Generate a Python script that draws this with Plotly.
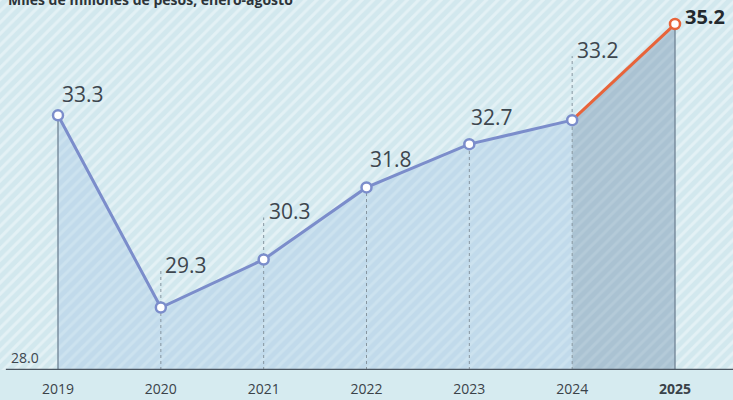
import plotly.graph_objects as go

years = [2019, 2020, 2021, 2022, 2023, 2024, 2025]
values = [33.3, 29.3, 30.3, 31.8, 32.7, 33.2, 35.2]
labels = ["33.3", "29.3", "30.3", "31.8", "32.7", "33.2", "35.2"]
base_value = 28.0
title_text = "Miles de millones de pesos, enero-agosto"

W, H = 733, 400
x_range = [2018.436, 2025.564]
y_range = [28.0, 35.7]
px_per_unit = (H - 30) / (y_range[1] - y_range[0])

# label offsets (pixels above point) and whether dotted guide reaches label
label_dy = [21, 43, 48, 28, 27, 70, 8]
label_dx = [2, 2, 3, 1, 0, 3, 8]
guide_to_label = [False, True, True, False, False, True, False]

blue = "#7b8dcb"
orange = "#e8643a"
text_col = "#3d464e"

fig = go.Figure()

# striped background
fig.add_trace(go.Scatter(
    x=[x_range[0], x_range[1], x_range[1], x_range[0], x_range[0]],
    y=[y_range[0] - 1, y_range[0] - 1, y_range[1], y_range[1], y_range[0] - 1],
    fill="toself", mode="none", hoverinfo="skip", showlegend=False,
    fillcolor="#d6ebf0",
    fillpattern=dict(shape="/", bgcolor="#d2e8ee", fgcolor="#f4fafc", size=8, solidity=0.38),
))

# area under blue line
fig.add_trace(go.Scatter(
    x=years[:6], y=values[:6], fill="tozeroy", mode="none", hoverinfo="skip",
    showlegend=False,
    fillpattern=dict(shape="/", bgcolor="#c1daeb", fgcolor="#d8e9f3", size=8, solidity=0.38),
))
# area under orange segment
fig.add_trace(go.Scatter(
    x=years[5:], y=values[5:], fill="tozeroy", mode="none", hoverinfo="skip",
    showlegend=False,
    fillpattern=dict(shape="/", bgcolor="#aac2d2", fgcolor="#bdd1de", size=8, solidity=0.38),
))

# vertical guide lines
for i, (yr, v) in enumerate(zip(years, values)):
    if i == 0 or i == len(years) - 1:
        fig.add_trace(go.Scatter(x=[yr, yr], y=[base_value, v], mode="lines",
                                 line=dict(color="#76899a", width=1.4),
                                 hoverinfo="skip", showlegend=False))
    else:
        top = v + (label_dy[i] - 6) / px_per_unit if guide_to_label[i] else v
        fig.add_trace(go.Scatter(x=[yr, yr], y=[base_value, top], mode="lines",
                                 line=dict(color="#8796a0", width=1, dash="dot"),
                                 hoverinfo="skip", showlegend=False))

# lines
fig.add_trace(go.Scatter(
    x=years[5:], y=values[5:], mode="lines", line=dict(color=orange, width=3),
    showlegend=False, hoverinfo="skip",
))
fig.add_trace(go.Scatter(
    x=years[:6], y=values[:6], mode="lines+markers", line=dict(color=blue, width=3),
    marker=dict(size=10, color="white", line=dict(color=blue, width=2.5)),
    showlegend=False,
))
fig.add_trace(go.Scatter(
    x=[years[6]], y=[values[6]], mode="markers",
    marker=dict(size=10, color="white", line=dict(color=orange, width=2.5)),
    showlegend=False,
))

shapes = [dict(type="line", xref="paper", x0=0.008, x1=1, y0=base_value, y1=base_value,
               line=dict(color="#4b5661", width=2.5))]

annotations = []
for i, (yr, v, lab) in enumerate(zip(years, values, labels)):
    last = i == len(years) - 1
    annotations.append(dict(
        x=yr, y=v, text=f"<b>{lab}</b>" if last else lab, showarrow=False,
        xanchor="left", yanchor="middle", xshift=label_dx[i], yshift=label_dy[i],
        font=dict(size=21 if not last else 20, color="#23292e" if last else text_col,
                  family="Open Sans"),
    ))
annotations.append(dict(
    xref="paper", x=0.012, y=base_value, text=f"{base_value:.1f}", showarrow=False,
    xanchor="left", yanchor="bottom", yshift=1,
    font=dict(size=14, color=text_col, family="Open Sans"),
))
annotations.append(dict(
    xref="paper", yref="paper", x=0.008, y=1, text=f"<b>{title_text}</b>", showarrow=False,
    xanchor="left", yanchor="middle", yshift=1,
    font=dict(size=14, color="#2d3439", family="Open Sans"),
))

ticktext = [str(y) for y in years[:-1]] + [f"<b>{years[-1]}</b>"]

fig.update_layout(
    width=W, height=H, margin=dict(l=0, r=0, t=0, b=30),
    paper_bgcolor="#d6ebf0", plot_bgcolor="#d6ebf0",
    shapes=shapes, annotations=annotations,
    xaxis=dict(range=x_range, tickvals=years, ticktext=ticktext, showgrid=False,
               zeroline=False, showline=False, ticks="outside", ticklen=6,
               tickcolor="rgba(0,0,0,0)",
               tickfont=dict(size=14, color="#3a4249", family="Open Sans"),
               fixedrange=True),
    yaxis=dict(range=y_range, showgrid=False, zeroline=False, showticklabels=False,
               showline=False, fixedrange=True),
)

fig.write_html("out.html", config={"displayModeBar": False},
               post_script="document.body.style.margin='0';document.body.style.overflow='hidden';")
